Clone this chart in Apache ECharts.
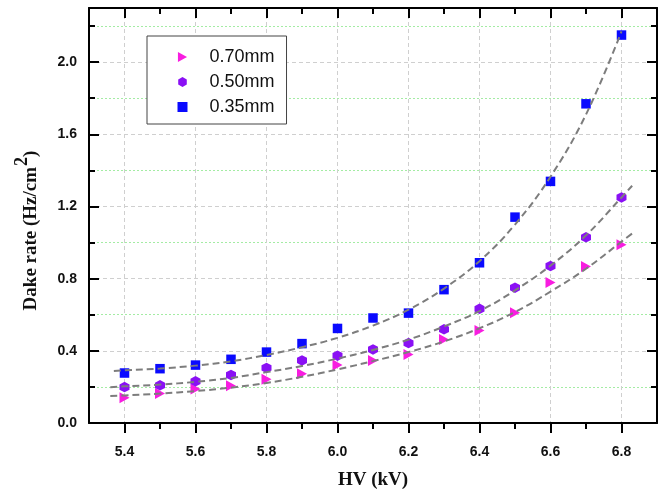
<!DOCTYPE html>
<html>
<head>
<meta charset="utf-8">
<script src="https://cdn.jsdelivr.net/npm/echarts@6/dist/echarts.min.js"></script>
<style>html,body{margin:0;padding:0;background:#fff}#c{width:670px;height:494px}</style>
</head>
<body>
<div id="c"></div>
<script>
// ---- data ----
const hv = [5.4, 5.5, 5.6, 5.7, 5.8, 5.9, 6.0, 6.1, 6.2, 6.3, 6.4, 6.5, 6.6, 6.7, 6.8];
const seriesNames = ['0.70mm', '0.50mm', '0.35mm'];
const rate070 = [0.14, 0.163, 0.188, 0.207, 0.242, 0.273, 0.321, 0.347, 0.38, 0.463, 0.513, 0.611, 0.779, 0.868, 0.988];
const rate050 = [0.199, 0.209, 0.231, 0.266, 0.305, 0.347, 0.373, 0.408, 0.443, 0.519, 0.633, 0.75, 0.87, 1.029, 1.25];
const rate035 = [0.277, 0.301, 0.321, 0.353, 0.393, 0.44, 0.524, 0.582, 0.609, 0.739, 0.888, 1.141, 1.339, 1.769, 2.15];

// fitted (dashed) curves
const fitX070 = [5.36, 5.4, 5.5, 5.6, 5.7, 5.8, 5.9, 6.0, 6.1, 6.2, 6.3, 6.4, 6.5, 6.6, 6.7, 6.8, 6.83];
const fitY070 = [0.15, 0.153, 0.163, 0.177, 0.196, 0.222, 0.256, 0.297, 0.343, 0.393, 0.452, 0.525, 0.615, 0.728, 0.855, 1.005, 1.05];
const fitX050 = [5.36, 5.4, 5.5, 5.6, 5.7, 5.8, 5.9, 6.0, 6.1, 6.2, 6.3, 6.4, 6.5, 6.6, 6.7, 6.8, 6.83];
const fitY050 = [0.198, 0.203, 0.213, 0.228, 0.25, 0.282, 0.316, 0.357, 0.405, 0.462, 0.535, 0.62, 0.735, 0.872, 1.04, 1.25, 1.315];
const fitX035 = [5.37, 5.4, 5.5, 5.6, 5.7, 5.8, 5.9, 6.0, 6.1, 6.2, 6.3, 6.4, 6.5, 6.6, 6.7, 6.8];
const fitY035 = [0.288, 0.292, 0.302, 0.318, 0.342, 0.377, 0.42, 0.472, 0.54, 0.628, 0.745, 0.897, 1.10, 1.365, 1.71, 2.17];

// tick labels
const xMajor = [5.4, 5.6, 5.8, 6.0, 6.2, 6.4, 6.6, 6.8];
const xMinor = [5.5, 5.7, 5.9, 6.1, 6.3, 6.5, 6.7];
const yMajor = [0.0, 0.4, 0.8, 1.2, 1.6, 2.0];
const yMinor = [0.2, 0.6, 1.0, 1.4, 1.8, 2.2];

const X_MIN = 5.3, X_MAX = 6.9, Y_MIN = 0, Y_MAX = 2.3;

const colors = ['#f81de0', '#8a10f4', '#0a0aff'];
const symbols = [
  'path://M0,0L10,5.5L0,11Z',
  'path://M5,0L9.5,2.6L9.5,7.9L5,10.5L0.5,7.9L0.5,2.6Z',
  'path://M0,0L10,0L10,10L0,10Z'
];
const symbolSizes = [[10, 11], [10, 10.5], 9.5];

const labelFont = { fontFamily: 'Liberation Sans, Arial, sans-serif', fontWeight: 'bold', fontSize: 14, color: '#111' };
const titleFont = { fontFamily: 'Liberation Serif, Times New Roman, serif', fontWeight: 'bold', fontSize: 19, color: '#111' };
const black = { color: '#000', width: 2 };

function xAx(pos, ticks, len, inside, extra) {
  return Object.assign({
    type: 'value', min: X_MIN, max: X_MAX, position: pos,
    axisLine: { show: false, onZero: false },
    axisTick: { show: true, customValues: ticks, length: len, inside: inside, lineStyle: black },
    axisLabel: { show: false },
    splitLine: { show: false }
  }, extra || {});
}
function yAx(pos, ticks, len, extra) {
  return Object.assign({
    type: 'value', min: Y_MIN, max: Y_MAX, position: pos,
    axisLine: { show: false, onZero: false },
    axisTick: { show: true, customValues: ticks, length: len, inside: true, lineStyle: black },
    axisLabel: { show: false },
    splitLine: { show: false }
  }, extra || {});
}

const series = [];
const fits = [[fitX070, fitY070], [fitX050, fitY050], [fitX035, fitY035]];
[rate070, rate050, rate035].forEach((arr, i) => {
  series.push({
    name: seriesNames[i], type: 'scatter', xAxisIndex: 0, yAxisIndex: 0,
    symbol: symbols[i], symbolSize: symbolSizes[i],
    itemStyle: { color: colors[i], opacity: 1 },
    data: hv.map((x, k) => [x, arr[k]]), z: 3
  });
});
fits.forEach((f, i) => {
  series.push({
    name: 'fit' + i, type: 'line', xAxisIndex: 0, yAxisIndex: 0,
    symbol: 'none', smooth: 0.4, silent: true,
    lineStyle: { color: '#7d7d7d', width: 2, type: [7, 4] },
    data: f[0].map((x, k) => [x, f[1][k]]), z: 4
  });
});

const option = {
  animation: false,
  backgroundColor: '#fff',
  grid: { left: 89, right: 13, top: 8, bottom: 71, containLabel: false, outerBoundsMode: 'none' },
  legend: {
    orient: 'vertical', left: 147, top: 36,
    itemWidth: 44, itemHeight: 10, itemGap: 7,
    padding: [12, 12, 8, 30.5],
    borderColor: '#444', borderWidth: 1, backgroundColor: '#fff',
    textStyle: { fontFamily: 'Liberation Sans, Arial, sans-serif', fontSize: 18, color: '#111', lineHeight: 18 },
    data: seriesNames
  },
  xAxis: [
    xAx('bottom', xMajor, 10, false, {
      axisLine: { show: true, onZero: false, lineStyle: black },
      axisLabel: Object.assign({ show: true, customValues: xMajor, margin: 22, formatter: v => v.toFixed(1) }, labelFont),
      splitLine: { show: true, lineStyle: { color: '#cfcfcf', width: 1, type: [4, 3] } },
      name: 'HV (kV)', nameLocation: 'middle', nameGap: 48, nameTextStyle: titleFont
    }),
    xAx('bottom', xMinor, 6, false),
    xAx('top', xMajor, 10, true, { axisLine: { show: true, onZero: false, lineStyle: black } }),
    xAx('top', xMinor, 6, true)
  ],
  yAxis: [
    yAx('left', yMajor, 10, {
      axisLine: { show: true, onZero: false, lineStyle: black },
      axisLabel: Object.assign({ show: true, customValues: yMajor, margin: 12, formatter: v => v.toFixed(1) }, labelFont),
      splitLine: { show: true, lineStyle: { color: '#cfcfcf', width: 1, type: [4, 3] } },
      name: '{t|Dake rate (Hz/cm}{s|2}{t|)}', nameLocation: 'middle', nameRotate: 90, nameGap: 48,
      nameTextStyle: {
        padding: [0, 30, 0, 0],
        rich: {
          t: Object.assign({ verticalAlign: 'bottom' }, titleFont),
          s: Object.assign({}, titleFont, { fontSize: 18, verticalAlign: 'bottom', padding: [0, 0, 10, 1] })
        }
      }
    }),
    yAx('left', yMinor, 6, {
      splitLine: { show: true, lineStyle: { color: '#a4eca4', width: 1, type: [2, 2] } }
    }),
    yAx('right', yMajor, 10, { axisLine: { show: true, onZero: false, lineStyle: black } }),
    yAx('right', yMinor, 6)
  ],
  series: series
};

const chart = echarts.init(document.getElementById('c'), null, { renderer: 'canvas' });
chart.setOption(option);
</script>
</body>
</html>
